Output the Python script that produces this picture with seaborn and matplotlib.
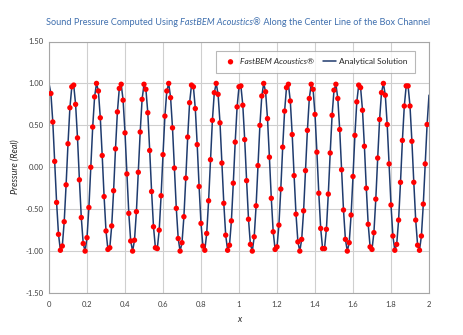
import numpy as np
import pandas as pd
import matplotlib
matplotlib.use("Agg")
import matplotlib.pyplot as plt
import seaborn as sns

# ---- data ----
x_grid = np.round(np.arange(201) * 0.01, 2)
analytical = [
    1.00, 0.88, 0.54, 0.07, -0.42, -0.80, -0.99, -0.94, -0.65, -0.21, 0.28, 0.71, 0.96,
    0.98, 0.75, 0.35, -0.15, -0.60, -0.91, -1.00, -0.84, -0.48, 0.00, 0.48, 0.84, 1.00,
    0.91, 0.59, 0.14, -0.35, -0.76, -0.98, -0.96, -0.70, -0.28, 0.22, 0.66, 0.94,
    0.99, 0.80, 0.41, -0.08, -0.55, -0.88, -1.00, -0.87, -0.53, -0.06, 0.42, 0.81, 0.99,
    0.93, 0.65, 0.20, -0.29, -0.71, -0.96, -0.97, -0.75, -0.34, 0.15, 0.61, 0.91,
    1.00, 0.83, 0.47, -0.01, -0.49, -0.85, -1.00, -0.90, -0.59, -0.13, 0.36, 0.77, 0.98,
    0.96, 0.70, 0.27, -0.23, -0.67, -0.94, -0.99, -0.79, -0.40, 0.09, 0.56, 0.89, 1.00,
    0.87, 0.53, 0.05, -0.43, -0.81, -0.99, -0.93, -0.64, -0.19, 0.30, 0.72, 0.96,
    0.97, 0.74, 0.33, -0.16, -0.62, -0.92, -1.00, -0.83, -0.46, 0.02, 0.50, 0.85, 1.00,
    0.90, 0.58, 0.12, -0.37, -0.77, -0.98, -0.95, -0.69, -0.26, 0.24, 0.67, 0.95,
    0.99, 0.79, 0.39, -0.10, -0.56, -0.89, -1.00, -0.86, -0.52, -0.04, 0.44, 0.82, 0.99,
    0.93, 0.63, 0.18, -0.31, -0.73, -0.97, -0.97, -0.74, -0.32, 0.17, 0.62, 0.92,
    0.99, 0.82, 0.45, -0.03, -0.51, -0.86, -1.00, -0.90, -0.57, -0.11, 0.38, 0.78, 0.98,
    0.95, 0.68, 0.25, -0.25, -0.68, -0.95, -0.98, -0.78, -0.38, 0.11, 0.57, 0.89, 1.00,
    0.86, 0.51, 0.04, -0.45, -0.82, -0.99, -0.92, -0.63, -0.18, 0.32, 0.73, 0.97,
    0.97, 0.73, 0.31, -0.18, -0.63, -0.93, -0.99, -0.82, -0.44, 0.04, 0.51, 0.86,
]
fastbem_x = x_grid[1:200]
fastbem_p = analytical[1:200]

x_ticks = [0, 0.2, 0.4, 0.6, 0.8, 1.0, 1.2, 1.4, 1.6, 1.8, 2.0]
x_tick_labels = ["0", "0.2", "0.4", "0.6", "0.8", "1", "1.2", "1.4", "1.6", "1.8", "2"]
y_ticks = [-1.5, -1.0, -0.5, 0.0, 0.5, 1.0, 1.5]
y_tick_labels = ["-1.50", "-1.00", "-0.50", "0.00", "0.50", "1.00", "1.50"]

df_line = pd.DataFrame({"x": x_grid, "p": analytical})
df_pts = pd.DataFrame({"x": fastbem_x, "p": fastbem_p})

sns.set_theme(style="white")
plt.rcParams["font.family"] = ["Lato", "DejaVu Sans"]

W, H = 464, 335
fig = plt.figure(figsize=(W / 100, H / 100), dpi=100)
fig.patch.set_facecolor("white")
ax = fig.add_axes([49 / W, 1 - 293 / H, 380 / W, 251.5 / H])

sns.lineplot(data=df_line, x="x", y="p", ax=ax, color="#1F3B6E", lw=1.1,
             label="Analytical Solution", zorder=2)
sns.scatterplot(data=df_pts, x="x", y="p", ax=ax, color="#FF0000", s=15,
                edgecolor="none", label="FastBEM Acoustics\u00ae", zorder=3)

ax.set_xlim(0, 2)
ax.set_ylim(-1.5, 1.5)
ax.set_xticks(x_ticks)
ax.set_xticklabels(x_tick_labels)
ax.set_yticks(y_ticks)
ax.set_yticklabels(y_tick_labels)
ax.grid(True, color="#CFCFCF", lw=0.8)
ax.set_axisbelow(True)
for s in ax.spines.values():
    s.set_color("#A6A6A6")
    s.set_linewidth(0.8)
ax.tick_params(axis="both", labelsize=5.5, colors="#404040")
ax.tick_params(axis="y", length=2, width=0.6, direction="out", pad=2, color="#A6A6A6")
ax.tick_params(axis="x", length=0, pad=6)
ax.set_xlabel("")
ax.set_ylabel("")

handles, labels = ax.get_legend_handles_labels()
order = [labels.index("FastBEM Acoustics\u00ae"), labels.index("Analytical Solution")]
leg = ax.legend([handles[i] for i in order], [labels[i] for i in order],
                loc="center", bbox_to_anchor=((315.5 - 49) / 380, (293 - 61.5) / 251.5),
                ncol=2, fontsize=6,
                frameon=True, fancybox=False, edgecolor="#A6A6A6",
                handlelength=1.6, columnspacing=1.1, borderpad=0.9, handletextpad=0.3,
                borderaxespad=0)
leg.get_frame().set_linewidth(0.8)
leg.get_texts()[0].set_style("italic")
for t in leg.get_texts():
    t.set_color("#262626")

# title with italic fragment
renderer = fig.canvas.get_renderer()
parts = [("Sound Pressure Computed Using ", "normal"),
         ("FastBEM Acoustics\u00ae", "italic"),
         (" Along the Center Line of the Box Channel", "normal")]
title_color = "#3F6FAE"
texts = []
for s, st in parts:
    t = fig.text(0, 1 - 22.7 / H, s, fontsize=6.6, style=st, color=title_color,
                 va="center", ha="left")
    texts.append(t)
widths = [t.get_window_extent(renderer).width for t in texts]
total = sum(widths)
x0 = 238 - total / 2
for t, w in zip(texts, widths):
    t.set_x(x0 / W)
    x0 += w

fig.text(15 / W, 1 - 167 / H, "Pressure (Real)", rotation=90, style="italic",
         fontsize=6.5, color="#262626", ha="center", va="center")
fig.text(239 / W, 1 - 320 / H, "x", style="italic", fontsize=6.5, color="#262626",
         ha="center", va="center")

fig.savefig("out.png", dpi=100)
